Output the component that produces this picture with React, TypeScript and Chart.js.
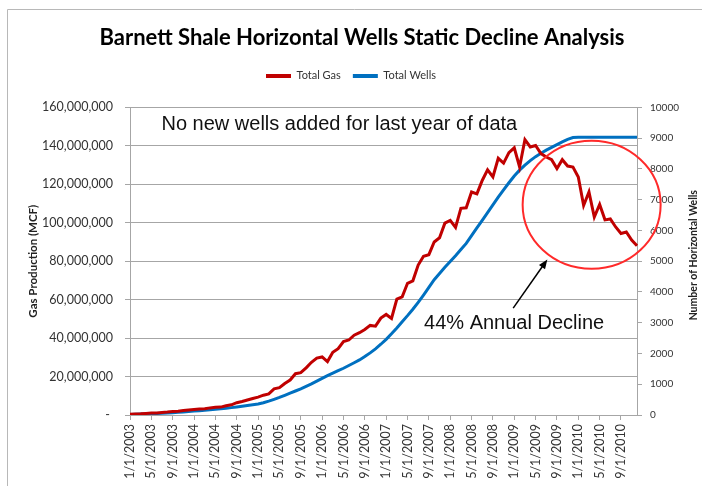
import { useEffect, useRef } from 'react';
import { Chart, registerables } from 'chart.js';

Chart.register(...registerables);

// Categories: monthly, Jan 2003 – Dec 2010
const MONTHS: string[] = [];
for (let yr = 2003; yr <= 2010; yr++) {
  for (let m = 1; m <= 12; m++) MONTHS.push(`${m}/1/${yr}`);
}

// Total gas production, millions of MCF
const TOTAL_GAS_MILLIONS = [
  0.4, 0.5, 0.6, 0.8, 1.0, 1.1, 1.3, 1.5, 1.8, 2.0, 2.3, 2.6,
  2.9, 3.1, 3.3, 3.7, 4.0, 4.1, 4.8, 5.3, 6.4, 7.0, 7.8, 8.6,
  9.3, 10.3, 11.0, 13.6, 14.2, 16.4, 18.2, 21.5, 22.0, 24.5, 27.4, 29.6,
  30.2, 27.8, 32.6, 34.5, 38.2, 39.0, 41.5, 42.8, 44.5, 46.6, 46.2, 50.4,
  52.3, 50.2, 60.3, 61.5, 68.5, 69.8, 78.0, 82.6, 83.4, 90.0, 92.2, 99.8,
  101.2, 97.6, 107.5, 107.8, 116.0, 115.0, 122.0, 127.5, 123.8, 133.5, 131.0, 136.5,
  139.0, 129.0, 143.2, 139.4, 140.2, 136.0, 134.2, 132.8, 128.2, 132.8, 129.5, 129.0,
  123.8, 109.0, 116.0, 103.0, 109.5, 101.5, 102.0, 97.8, 94.4, 95.2, 91.0, 88.0,
];

// Total horizontal wells
const TOTAL_WELLS = [
  20, 25, 30, 35, 40, 48, 56, 65, 75, 88, 100, 115,
  130, 142, 155, 170, 185, 200, 220, 240, 262, 287, 312, 335,
  360, 400, 450, 510, 570, 640, 710, 780, 850, 930, 1010, 1100,
  1190, 1280, 1360, 1440, 1520, 1610, 1700, 1790, 1900, 2020, 2150, 2300,
  2460, 2640, 2830, 3030, 3230, 3440, 3660, 3900, 4150, 4400, 4600, 4800,
  4990, 5180, 5380, 5580, 5830, 6080, 6330, 6580, 6830, 7080, 7320, 7550,
  7770, 7960, 8120, 8270, 8400, 8510, 8610, 8700, 8790, 8880, 8960, 9020,
  9030, 9030, 9030, 9030, 9030, 9030, 9030, 9030, 9030, 9030, 9030, 9030,
];

const TITLE = 'Barnett Shale Horizontal Wells Static Decline Analysis';
const LEFT_TITLE = 'Gas Production (MCF)';
const RIGHT_TITLE = 'Number of Horizontal Wells';
const NOTE_WELLS = 'No new wells added for last year of data';
const NOTE_DECLINE = '44% Annual Decline';

const RED = '#c00000';
const BLUE = '#0070c0';
const GRID = '#a6a6a6';
const FONT = 'Lato';

const annotations = {
  id: 'annotations',
  beforeDraw(chart: any) {
    const { ctx } = chart;
    ctx.save();
    ctx.strokeStyle = '#b8b8b8';
    ctx.lineWidth = 1;
    ctx.beginPath();
    ctx.moveTo(7.5, 486);
    ctx.lineTo(7.5, 9.5);
    ctx.lineTo(702, 9.5);
    ctx.stroke();
    // chart title (Excel centres it slightly right of the canvas centre)
    ctx.fillStyle = '#000';
    ctx.font = `bold 22px ${FONT}`;
    ctx.textAlign = 'center';
    ctx.textBaseline = 'middle';
    ctx.fillText(TITLE, 362, 38);
    ctx.restore();
  },
  afterDraw(chart: any) {
    const { ctx, chartArea } = chart;
    const x = chart.scales.x;
    const y = chart.scales.y;
    ctx.save();
    // note texts
    ctx.fillStyle = '#111111';
    ctx.font = '20px "Liberation Sans"';
    ctx.textBaseline = 'middle';
    ctx.textAlign = 'left';
    ctx.fillText(NOTE_WELLS, x.getPixelForValue(5.9), y.getPixelForValue(151.2e6));
    ctx.fillText(NOTE_DECLINE, x.getPixelForValue(55.1), y.getPixelForValue(47.8e6));

    // circle
    ctx.strokeStyle = '#ff2a2a';
    ctx.lineWidth = 2;
    ctx.beginPath();
    ctx.ellipse(x.getPixelForValue(86.5), y.getPixelForValue(109.4e6), 69, 64, 0, 0, Math.PI * 2);
    ctx.stroke();

    // arrow
    const x0 = x.getPixelForValue(71.8);
    const y0 = y.getPixelForValue(55.6e6);
    const x1 = x.getPixelForValue(78.2);
    const y1 = y.getPixelForValue(80.9e6);
    const ang = Math.atan2(y1 - y0, x1 - x0);
    const head = 10;
    ctx.strokeStyle = '#000';
    ctx.fillStyle = '#000';
    ctx.lineWidth = 1.5;
    ctx.beginPath();
    ctx.moveTo(x0, y0);
    ctx.lineTo(x1 - Math.cos(ang) * head * 0.8, y1 - Math.sin(ang) * head * 0.8);
    ctx.stroke();
    ctx.beginPath();
    ctx.moveTo(x1, y1);
    ctx.lineTo(x1 - Math.cos(ang - 0.38) * head, y1 - Math.sin(ang - 0.38) * head);
    ctx.lineTo(x1 - Math.cos(ang + 0.38) * head, y1 - Math.sin(ang + 0.38) * head);
    ctx.closePath();
    ctx.fill();

    // right axis title (reads bottom to top)
    ctx.fillStyle = '#222';
    ctx.font = `bold 10.5px ${FONT}`;
    ctx.textAlign = 'center';
    ctx.textBaseline = 'middle';
    ctx.translate(694, (chartArea.top + chartArea.bottom) / 2 - 6);
    ctx.rotate(-Math.PI / 2);
    ctx.fillText(RIGHT_TITLE, 0, 0);
    ctx.restore();
  },
};

export default function App() {
  const ref = useRef<HTMLCanvasElement | null>(null);

  useEffect(() => {
    if (!ref.current) return;
    Chart.defaults.font.family = FONT;
    const chart = new Chart(ref.current, {
      type: 'line',
      data: {
        labels: MONTHS,
        datasets: [
          {
            label: 'Total Gas',
            data: TOTAL_GAS_MILLIONS.map((v) => v * 1e6),
            borderColor: RED,
            backgroundColor: RED,
            borderWidth: 3,
            pointRadius: 0,
            yAxisID: 'y',
          },
          {
            label: 'Total Wells',
            data: TOTAL_WELLS,
            borderColor: BLUE,
            backgroundColor: BLUE,
            borderWidth: 3,
            pointRadius: 0,
            yAxisID: 'y1',
          },
        ],
      },
      options: {
        animation: false,
        responsive: true,
        maintainAspectRatio: false,
        layout: { padding: { top: 58.4, left: 0, right: 0, bottom: 0 } },
        plugins: {
          title: { display: false },
          legend: {
            display: true,
            position: 'top',
            labels: {
              color: '#333',
              font: { family: FONT, size: 11 },
              boxWidth: 25,
              boxHeight: 4,
              padding: 12,
              generateLabels: (c: any) =>
                c.data.datasets.map((d: any, i: number) => ({
                  text: d.label,
                  fillStyle: d.borderColor,
                  strokeStyle: d.borderColor,
                  lineWidth: 0,
                  hidden: false,
                  datasetIndex: i,
                  fontColor: '#333',
                })),
            },
          },
          subtitle: {
            display: true,
            text: ' ',
            font: { size: 1, lineHeight: 1 },
            padding: { top: 0, bottom: 15 },
            // @ts-ignore
            weight: 500,
          },
          tooltip: { enabled: false },
        },
        scales: {
          x: {
            type: 'category',
            offset: false,
            afterBuildTicks: (axis: any) => {
              axis.ticks = axis.ticks.filter((t: any) => t.value % 4 === 0);
            },
            afterFit: (axis: any) => {
              axis.height = 71;
            },
            grid: { display: true, drawOnChartArea: false, drawTicks: true, tickLength: 5, color: GRID },
            border: { display: true, color: GRID },
            ticks: {
              autoSkip: false,
              maxRotation: 90,
              minRotation: 90,
              padding: 4,
              color: '#333',
              font: { family: FONT, size: 12.5 },
            },
          },
          y: {
            type: 'linear',
            position: 'left',
            min: 0,
            max: 160000000,
            afterFit: (axis: any) => {
              axis.width = 130;
            },
            ticks: {
              stepSize: 20000000,
              padding: 12,
              color: '#333',
              font: { family: FONT, size: 12.5 },
              callback: (v: any) => (Number(v) === 0 ? '- ' : Number(v).toLocaleString('en-US')),
            },
            grid: { color: GRID, lineWidth: 1, drawTicks: true, tickLength: 5, tickColor: GRID },
            border: { display: true, color: GRID },
            title: {
              display: true,
              text: LEFT_TITLE,
              color: '#222',
              font: { family: FONT, size: 11.5, weight: 'bold' },
              padding: { top: 26, bottom: 0 },
            },
          },
          y1: {
            type: 'linear',
            position: 'right',
            min: 0,
            max: 10000,
            afterFit: (axis: any) => {
              axis.width = 65;
            },
            ticks: {
              stepSize: 1000,
              padding: 8,
              color: '#333',
              font: { family: FONT, size: 10 },
              callback: (v: any) => String(v),
            },
            grid: { drawOnChartArea: false, drawTicks: true, tickLength: 5, color: GRID },
            border: { display: true, color: GRID },
          },
        },
      },
      plugins: [annotations],
    });
    return () => chart.destroy();
  }, []);

  return (
    <div style={{ position: 'fixed', left: 0, top: 0, width: 702, height: 486, background: '#fff' }}>
      <canvas ref={ref} />
    </div>
  );
}
